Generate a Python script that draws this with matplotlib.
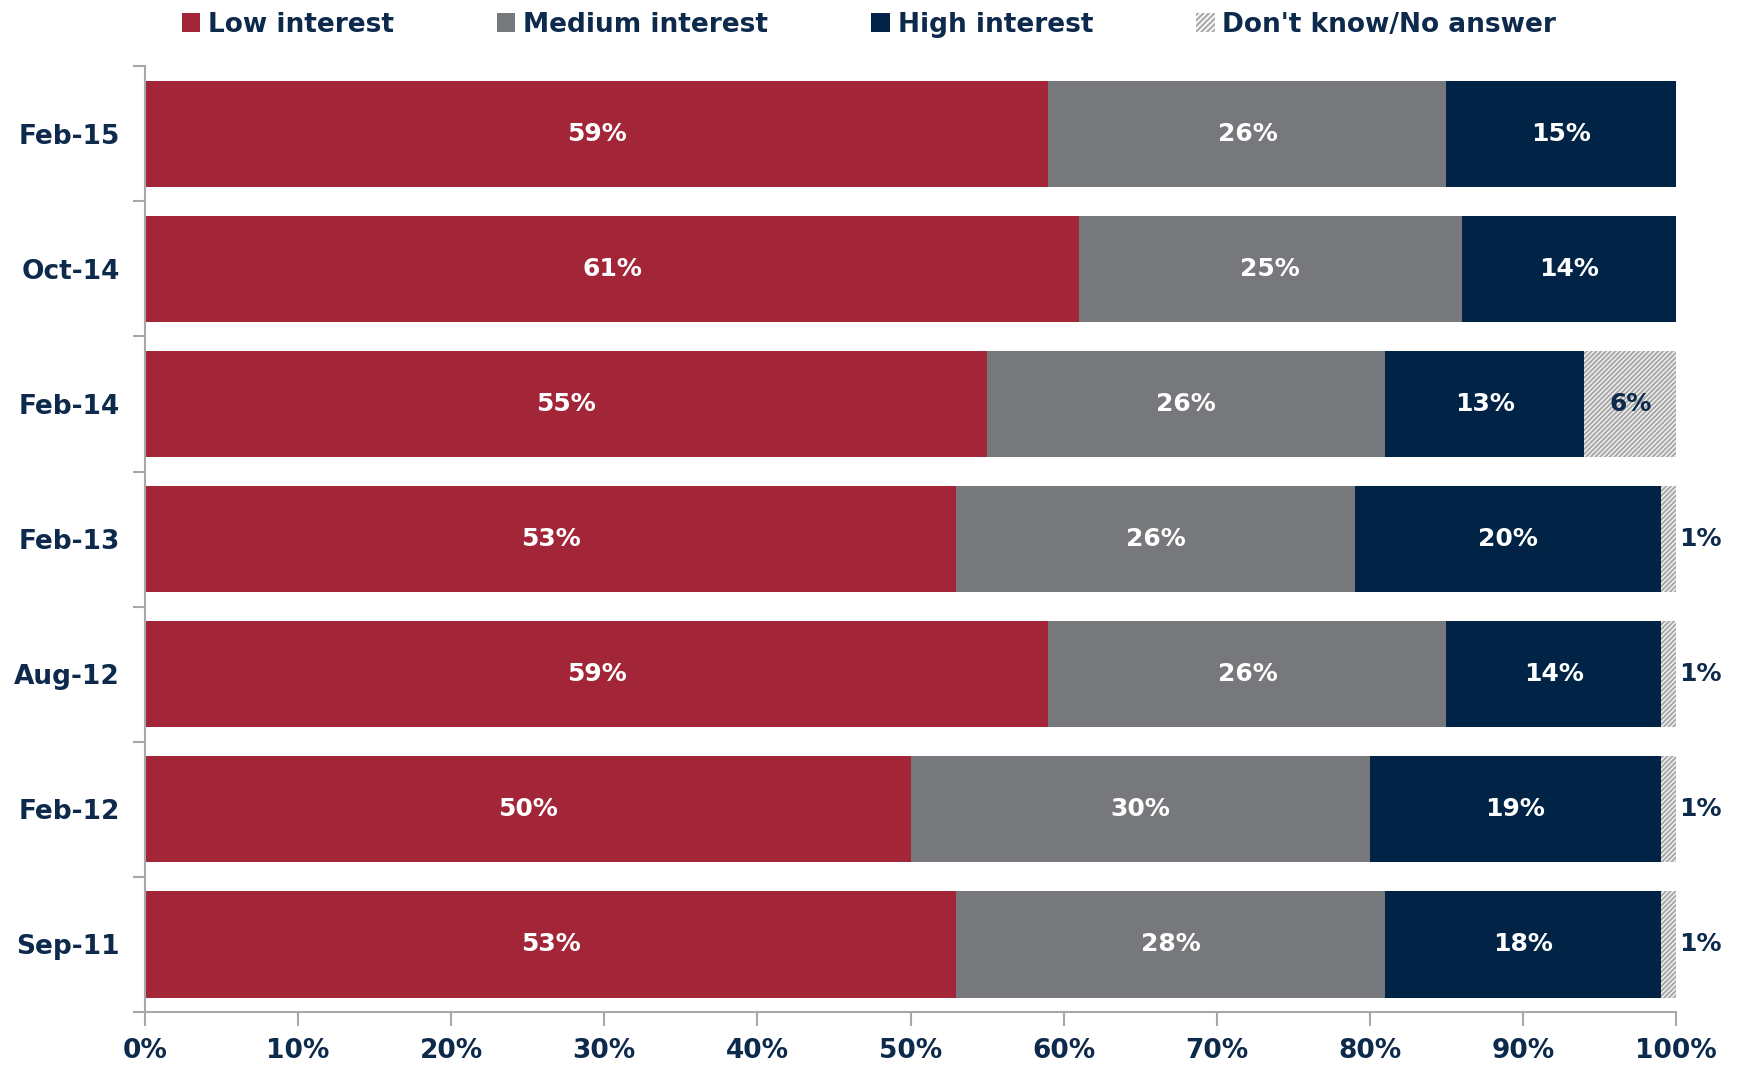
import numpy as np
import matplotlib.pyplot as plt
from matplotlib.patches import Patch

# survey waves, top to bottom
waves = ["Feb-15", "Oct-14", "Feb-14", "Feb-13", "Aug-12", "Feb-12", "Sep-11"]
low = [59, 61, 55, 53, 59, 50, 53]
medium = [26, 25, 26, 26, 26, 30, 28]
high = [15, 14, 13, 20, 14, 19, 18]
dk = [0, 0, 6, 1, 1, 1, 1]

series_names = ["Low interest", "Medium interest", "High interest", "Don't know/No answer"]
colors = ["#A22638", "#77787B", "#002346", "white"]
navy = "#0D2A4C"
axis_gray = "#A6A8AB"

plt.rcParams['font.family'] = ['DejaVu Sans']
plt.rcParams['hatch.linewidth'] = 1.6

fig = plt.figure(figsize=(17.38, 10.67), dpi=100)
ax = fig.add_axes([0.0834, 0.0515, 0.881, 0.8865])

y = np.arange(len(waves))
left = np.zeros(len(waves))
for i, vals in enumerate([low, medium, high, dk]):
    vals = np.array(vals, dtype=float)
    if i == 3:
        bars = ax.barh(y, vals, left=left, height=0.785, color="white",
                       edgecolor="#ABABAB", linewidth=0, hatch="///////")
    else:
        bars = ax.barh(y, vals, left=left, height=0.785, color=colors[i], linewidth=0)
    for j, v in enumerate(vals):
        if v <= 0:
            continue
        if i < 3:
            ax.text(left[j] + v / 2, y[j], f"{int(v)}%", ha="center", va="center",
                    color="white", fontsize=18, fontweight="bold")
        elif v >= 3:
            ax.text(left[j] + v / 2, y[j], f"{int(v)}%", ha="center", va="center",
                    color=navy, fontsize=18, fontweight="bold")
        else:
            ax.text(left[j] + v + 0.2, y[j], f"{int(v)}%", ha="left", va="center",
                    color=navy, fontsize=18, fontweight="bold")
    left += vals

ax.set_xlim(0, 100)
ax.set_ylim(len(waves) - 0.5, -0.5)
ax.set_xticks(np.arange(0, 101, 10))
ax.set_xticklabels([f"{t}%" for t in range(0, 101, 10)])
ax.set_yticks(y)
ax.set_yticklabels(waves)
ax.set_yticks(np.arange(len(waves) + 1) - 0.5, minor=True)

ax.tick_params(axis="y", which="major", length=0, pad=18, labelsize=19, labelcolor=navy)
ax.tick_params(axis="y", which="minor", length=9, width=1.5, color=axis_gray)
ax.tick_params(axis="x", length=10, width=1.5, color=axis_gray, pad=9,
               labelsize=19, labelcolor=navy)
for lab in ax.get_xticklabels() + ax.get_yticklabels():
    lab.set_fontweight("bold")

for s in ["top", "right"]:
    ax.spines[s].set_visible(False)
for s in ["left", "bottom"]:
    ax.spines[s].set_color(axis_gray)
    ax.spines[s].set_linewidth(1.5)

handles = [Patch(facecolor=colors[0], linewidth=0),
           Patch(facecolor=colors[1], linewidth=0),
           Patch(facecolor=colors[2], linewidth=0),
           Patch(facecolor="white", edgecolor="#ABABAB", linewidth=0, hatch="//////")]
leg = fig.legend(handles, series_names, loc="center", bbox_to_anchor=(0.5, 0.977),
                 ncol=4, frameon=False, handlelength=0.7, handleheight=0.7,
                 handletextpad=0.3, columnspacing=3.9,
                 prop={"size": 19, "weight": "bold"})
for t in leg.get_texts():
    t.set_color(navy)

fig.savefig("out.png", dpi=100)
